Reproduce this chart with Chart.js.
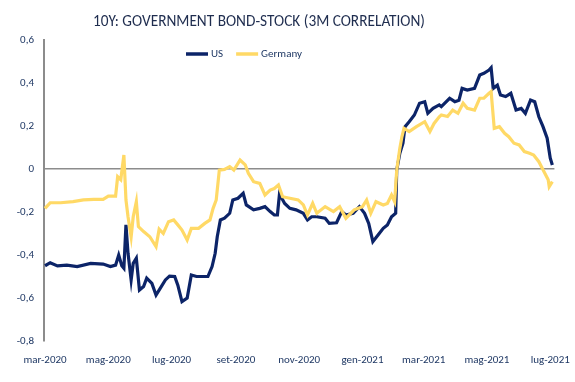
<!DOCTYPE html>
<html><head><meta charset="utf-8">
<script src="https://cdn.jsdelivr.net/npm/chart.js@4/dist/chart.umd.min.js"></script>
<style>html,body{margin:0;padding:0;background:#fff}#wrap{width:575px;height:382px;position:relative}</style>
</head><body><div id="wrap"><canvas id="c"></canvas></div>
<script>
const chartTitle = '10Y: GOVERNMENT BOND-STOCK (3M CORRELATION)';
const seriesNames = ['US', 'Germany'];
const xTickLabels = ['mar-2020','mag-2020','lug-2020','set-2020','nov-2020','gen-2021','mar-2021','mag-2021','lug-2021'];
const itMonths = ['gen','feb','mar','apr','mag','giu','lug','ago','set','ott','nov','dic'];

// x values: days since 1 March 2020
const usDays = [0,5,12,21,31,44,56,63,68,71,74,76,78,80,83,85,88,91,95,98,103,107,111,116,120,125,128,132,137,141,146,157,161,164,166,169,173,178,181,186,191,194,201,207,212,217,221,224,226,231,236,242,249,253,257,262,270,274,281,286,290,297,303,308,312,316,321,326,330,334,338,339,342,345,347,351,356,361,366,369,374,380,382,390,395,399,402,407,414,419,423,428,430,432,436,439,444,449,454,459,463,468,472,476,480,484,487,489];
const usValues = [-0.45,-0.436,-0.451,-0.447,-0.454,-0.439,-0.442,-0.454,-0.447,-0.40,-0.45,-0.462,-0.26,-0.392,-0.516,-0.439,-0.415,-0.563,-0.547,-0.508,-0.532,-0.586,-0.555,-0.516,-0.498,-0.50,-0.54,-0.617,-0.60,-0.493,-0.50,-0.50,-0.454,-0.392,-0.315,-0.237,-0.229,-0.206,-0.144,-0.136,-0.113,-0.167,-0.19,-0.183,-0.175,-0.198,-0.214,-0.214,-0.116,-0.16,-0.183,-0.19,-0.206,-0.237,-0.222,-0.222,-0.229,-0.253,-0.25,-0.198,-0.214,-0.206,-0.175,-0.206,-0.253,-0.338,-0.307,-0.276,-0.26,-0.222,-0.206,-0.005,0.073,0.12,0.197,0.22,0.251,0.306,0.313,0.259,0.282,0.298,0.29,0.329,0.313,0.32,0.375,0.367,0.375,0.437,0.445,0.46,0.471,0.375,0.39,0.344,0.337,0.352,0.274,0.282,0.259,0.321,0.313,0.243,0.197,0.143,0.05,0.019];

const deDays = [0,5,15,27,37,47,56,61,68,70,73,76,78,80,83,85,88,90,95,101,107,110,114,119,124,128,132,137,141,148,154,159,162,165,168,173,178,182,188,193,196,201,207,212,217,221,225,229,236,244,249,253,258,262,270,278,284,290,298,306,310,314,319,326,330,334,337,339,342,344,346,351,358,366,371,375,380,382,388,393,398,403,407,414,419,423,428,430,433,438,443,447,452,457,462,467,471,476,481,485,486,489];
const deValues = [-0.183,-0.157,-0.157,-0.152,-0.144,-0.141,-0.141,-0.126,-0.126,-0.036,-0.05,0.065,-0.144,-0.222,-0.315,-0.222,-0.152,-0.268,-0.291,-0.315,-0.361,-0.28,-0.30,-0.245,-0.237,-0.26,-0.284,-0.33,-0.276,-0.276,-0.253,-0.237,-0.183,-0.144,-0.005,-0.002,0.011,-0.005,0.042,0.019,-0.02,-0.059,-0.067,-0.121,-0.098,-0.091,-0.074,-0.129,-0.136,-0.144,-0.167,-0.214,-0.16,-0.206,-0.175,-0.198,-0.175,-0.229,-0.19,-0.175,-0.144,-0.206,-0.152,-0.167,-0.16,-0.121,-0.152,-0.005,0.096,0.15,0.189,0.174,0.197,0.22,0.174,0.212,0.243,0.251,0.244,0.274,0.259,0.306,0.282,0.274,0.329,0.329,0.352,0.36,0.189,0.197,0.166,0.15,0.12,0.112,0.081,0.073,0.065,0.034,-0.013,-0.05,-0.082,-0.059];

const base = Date.UTC(2020, 2, 1);
const xTickDays = xTickLabels.map(l => {
  const [m, y] = l.split('-');
  return Math.round((Date.UTC(+y, itMonths.indexOf(m), 1) - base) / 86400000);
});

const FONT = "Carlito, 'Liberation Sans Narrow', Lato, sans-serif";
const TXT = '#1f3864';

const overlay = {
  id: 'overlay',
  afterDraw(chart) {
    const ctx = chart.ctx;
    ctx.save();
    ctx.fillStyle = '#1f2d4f';
    ctx.font = "17px " + FONT;
    ctx.textAlign = 'center';
    ctx.textBaseline = 'middle';
    const w = ctx.measureText(chartTitle).width;
    const sx = Math.min(1, 332 / w);
    ctx.save();
    ctx.translate(259, 22);
    ctx.scale(sx, 1);
    ctx.fillText(chartTitle, 0, 0);
    ctx.restore();
    ctx.font = "11px " + FONT;
    ctx.fillStyle = TXT;
    ctx.textAlign = 'left';
    let x = 186; const y = 54;
    chart.data.datasets.forEach(ds => {
      ctx.strokeStyle = ds.borderColor; ctx.lineWidth = 3.5;
      ctx.beginPath(); ctx.moveTo(x, y); ctx.lineTo(x + 22, y); ctx.stroke();
      x += 25;
      ctx.fillText(ds.label, x, y);
      x += ctx.measureText(ds.label).width + 13;
    });
    ctx.restore();
  }
};

new Chart(document.getElementById('c'), {
  type: 'line',
  data: {
    datasets: [
      { label: seriesNames[0], data: usDays.map((d, i) => ({x: d, y: usValues[i]})), borderColor: '#0c2468', borderWidth: 3.2, pointRadius: 0, tension: 0, order: 2 },
      { label: seriesNames[1], data: deDays.map((d, i) => ({x: d, y: deValues[i]})), borderColor: '#ffd966', borderWidth: 3.2, pointRadius: 0, tension: 0, order: 1 }
    ]
  },
  options: {
    responsive: true, maintainAspectRatio: false, animation: false,
    layout: { padding: { top: 40, right: 20, left: 0, bottom: 0 } },
    plugins: { legend: { display: false }, title: { display: false }, tooltip: { enabled: false } },
    scales: {
      x: {
        type: 'linear', min: -1, max: 491,
        afterBuildTicks: s => { s.ticks = xTickDays.map(v => ({ value: v })); },
        afterFit: s => { s.height = 41; },
        grid: { display: false }, border: { display: false },
        ticks: { autoSkip: false, maxRotation: 0, padding: 5, color: TXT, font: { family: FONT, size: 11 },
          callback: v => xTickLabels[xTickDays.indexOf(v)] }
      },
      y: {
        min: -0.8, max: 0.6,
        afterFit: s => { s.width = 44; },
        ticks: { stepSize: 0.2, padding: 10, color: TXT, font: { family: FONT, size: 11 },
          callback: v => String(Math.round(v * 10) / 10).replace('.', ',') },
        grid: { drawTicks: false, lineWidth: 1.5, color: c => Math.abs(c.tick.value) < 1e-9 ? '#8c8c8c' : 'transparent' },
        border: { display: true, color: '#8c8c8c', width: 2 }
      }
    }
  },
  plugins: [overlay]
});
</script></body></html>
